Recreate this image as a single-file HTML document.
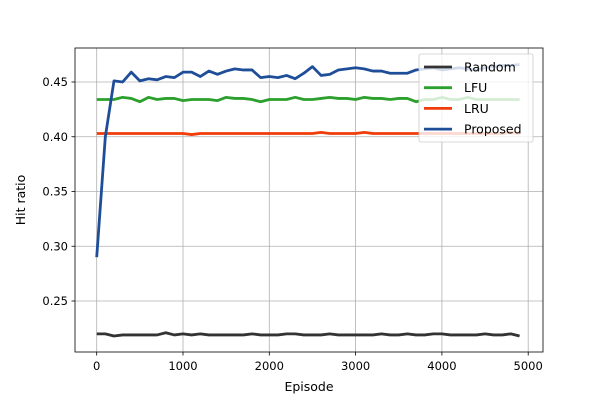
<!DOCTYPE html>
<html><head><meta charset="utf-8"><style>
body{margin:0;background:#fff;font-family:"DejaVu Sans","Liberation Sans",sans-serif}
text{font-family:"DejaVu Sans","Liberation Sans",sans-serif}
</style></head><body>
<svg id="c" width="600" height="400"></svg>
<script>
const episodes=[];for(let i=0;i<50;i++)episodes.push(i*100);
const random=[0.220,0.220,0.218,0.219,0.219,0.219,0.219,0.219,0.221,0.219,0.220,0.219,0.220,0.219,0.219,0.219,0.219,0.219,0.220,0.219,0.219,0.219,0.220,0.220,0.219,0.219,0.219,0.220,0.219,0.219,0.219,0.219,0.219,0.220,0.219,0.219,0.220,0.219,0.219,0.220,0.220,0.219,0.219,0.219,0.219,0.220,0.219,0.219,0.220,0.218];
const lfu=[0.434,0.434,0.434,0.436,0.435,0.432,0.436,0.434,0.435,0.435,0.433,0.434,0.434,0.434,0.433,0.436,0.435,0.435,0.434,0.432,0.434,0.434,0.434,0.436,0.434,0.434,0.435,0.436,0.435,0.435,0.434,0.436,0.435,0.435,0.434,0.435,0.435,0.432,0.434,0.434,0.436,0.434,0.434,0.436,0.434,0.434,0.434,0.434,0.434,0.434];
const lru=[0.403,0.403,0.403,0.403,0.403,0.403,0.403,0.403,0.403,0.403,0.403,0.402,0.403,0.403,0.403,0.403,0.403,0.403,0.403,0.403,0.403,0.403,0.403,0.403,0.403,0.403,0.404,0.403,0.403,0.403,0.403,0.404,0.403,0.403,0.403,0.403,0.403,0.403,0.403,0.403,0.403,0.403,0.403,0.403,0.403,0.403,0.403,0.403,0.404,0.403];
const proposed=[0.290,0.400,0.451,0.450,0.459,0.451,0.453,0.452,0.455,0.454,0.459,0.459,0.455,0.460,0.457,0.460,0.462,0.461,0.461,0.454,0.455,0.454,0.456,0.453,0.458,0.464,0.456,0.457,0.461,0.462,0.463,0.462,0.460,0.460,0.458,0.458,0.458,0.461,0.462,0.463,0.461,0.462,0.463,0.462,0.461,0.463,0.464,0.465,0.465,0.466];
const xTicks=[0,1000,2000,3000,4000,5000];
const yTicks=[0.25,0.30,0.35,0.40,0.45];
const NS="http://www.w3.org/2000/svg",svg=document.getElementById('c');
const L=75,R=543,T=48,B=352;
const X=v=>96.7+v*0.0863;
const Y=v=>82+(0.45-v)*1095;
function el(t,a,p){const e=document.createElementNS(NS,t);for(const k in a)e.setAttribute(k,a[k]);(p||svg).appendChild(e);return e;}
xTicks.forEach(t=>{
 const g=el('line',{x1:X(t),x2:X(t),y1:T,y2:B,stroke:'#b0b0b0','stroke-width':0.8});
 
 
 el('line',{x1:X(t),x2:X(t),y1:B,y2:B+3.5,stroke:'#000','stroke-width':0.8});
 const tx=el('text',{x:X(t),y:B+18,'font-size':11.5,'text-anchor':'middle'});tx.textContent=t;
 
 
});
yTicks.forEach(t=>{
 const g=el('line',{x1:L,x2:R,y1:Y(t),y2:Y(t),stroke:'#b0b0b0','stroke-width':0.8});
 
 
 el('line',{x1:L-3.5,x2:L,y1:Y(t),y2:Y(t),stroke:'#000','stroke-width':0.8});
 const tx=el('text',{x:L-7,y:Y(t)+4,'font-size':11.5,'text-anchor':'end'});tx.textContent=t.toFixed(2);
 
 
});
const series=[['Random',random,'#333333'],['LFU',lfu,'#2ca02c'],['LRU',lru,'#f03c0a'],['Proposed',proposed,'#1f4e99']];
series.forEach(([n,d,c])=>{
 const p=el('polyline',{points:d.map((v,i)=>X(episodes[i])+','+Y(v)).join(' '),fill:'none',stroke:c,'stroke-width':2.8,'stroke-linejoin':'round'});
 
 
});
const fr=el('rect',{x:L,y:T,width:R-L,height:B-T,fill:'none',stroke:'#000','stroke-width':0.8});


const lg=el('g',{});


el('rect',{x:419,y:54,width:114,height:88,rx:2,fill:'#fff','fill-opacity':0.8,stroke:'#ccc','stroke-width':0.8},lg);
series.forEach(([n,d,c],i)=>{
 const y=67+i*20.7;
 el('line',{x1:424,x2:452,y1:y,y2:y,stroke:c,'stroke-width':2.8},lg);
 const t=el('text',{x:464,y:y+4.5,'font-size':12.5},lg);t.textContent=n;
 
 
});
const xl=el('text',{x:309,y:391,'font-size':12.5,'text-anchor':'middle'});xl.textContent='Episode';


const yl=el('text',{x:25,y:200,'font-size':12.5,'text-anchor':'middle',transform:'rotate(-90 25 200)'});yl.textContent='Hit ratio';


</script>
</body></html>
